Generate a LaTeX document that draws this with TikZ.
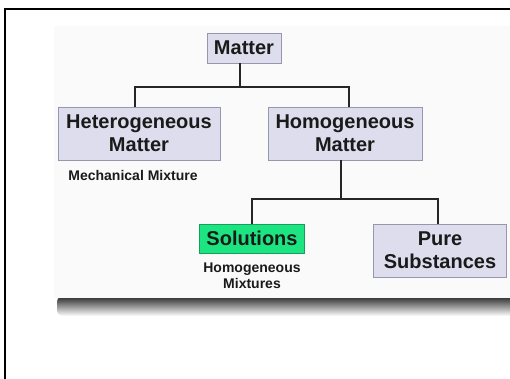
\documentclass[tikz,border=0pt]{standalone}
\usepackage{fontspec}
\setmainfont{Liberation Sans}
\usetikzlibrary{calc,positioning}

\definecolor{boxfill}{RGB}{221,221,237}
\definecolor{boxline}{RGB}{150,150,172}
\definecolor{solfill}{RGB}{28,228,128}
\definecolor{solline}{RGB}{20,160,90}
\definecolor{textcol}{RGB}{26,26,26}
\definecolor{panel}{RGB}{250,250,250}

\begin{document}
\begin{tikzpicture}[x=1pt, y=-1pt,
  box/.style={rectangle, draw=boxline, fill=boxfill, line width=0.8pt, text=textcol, align=center, inner sep=0pt, font=\fontsize{20}{23}\selectfont\bfseries},
  note/.style={text=textcol, align=center, inner sep=0pt, font=\fontsize{14}{16}\selectfont\bfseries},
  link/.style={line width=2pt, draw=black!85}
]
  \useasboundingbox (0,0) rectangle (510,378);
  \clip (0,0) rectangle (510,378);
  % slide frame and panel
  \draw[line width=2pt] (515,9) -- (5,9) -- (5,385);
  \shade[top color=black!85, bottom color=white, rounded corners=6pt] (57,296) rectangle (520,316);
  \fill[panel] (54,26) rectangle (520,298);

  \node[box, minimum width=74pt, minimum height=30pt] (matter) at (244,48) {Matter};
  \node[box, minimum width=162pt, minimum height=53pt] (hetero) at (139,133.5) {Heterogeneous\\Matter};
  \node[box, minimum width=154pt, minimum height=53pt] (homo) at (345,133.5) {Homogeneous\\Matter};
  \node[note] (mech) at (133,175) {Mechanical Mixture};
  \node[box, fill=solfill, draw=solline, minimum width=105pt, minimum height=29pt] (solutions) at (252,238.5) {Solutions};
  \node[note] (mixtures) at (252,276) {Homogeneous\\Mixtures};
  \node[box, minimum width=133pt, minimum height=53pt] (pure) at (440,250.5) {Pure\\Substances};

  \draw[link] ([xshift=-4pt]matter.south) -- ++(0,24) coordinate (j1);
  \draw[link] ([xshift=-4pt]hetero.north) |- (j1) -| ([xshift=4pt]homo.north);
  \draw[link] ([xshift=-4pt]homo.south) -- ++(0,39) coordinate (j2);
  \draw[link] (solutions.north) |- (j2) -| ([xshift=-2pt]pure.north);
\end{tikzpicture}
\end{document}
